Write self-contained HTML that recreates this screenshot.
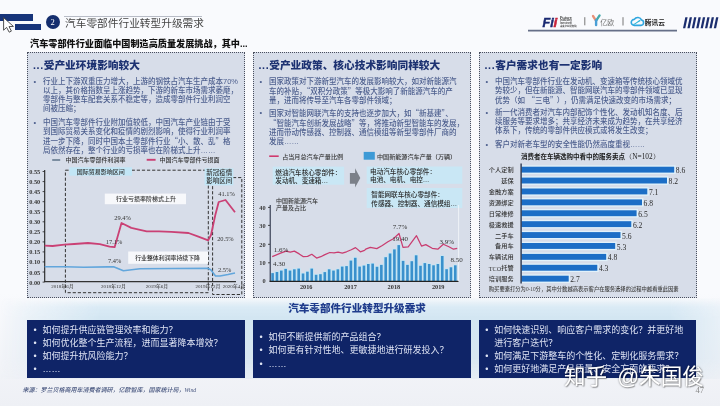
<!DOCTYPE html>
<html><head><meta charset="utf-8">
<style>
*{margin:0;padding:0;box-sizing:border-box}
html,body{width:720px;height:406px;overflow:hidden}
body{position:relative;background:linear-gradient(180deg,#f9fafd 0%,#f9fafd 72%,#eef0f5 100%);font-family:"Liberation Sans","Noto Sans CJK SC",sans-serif;color:#333}
.a{position:absolute}
.bar{position:absolute;background:#17347a}
.title{position:absolute;left:65px;top:15.5px;font-size:10.7px;line-height:14px;color:#454545;white-space:nowrap;font-weight:400}
.sub{position:absolute;left:30px;top:38.3px;font-size:9.15px;line-height:12px;font-weight:900;color:#111;white-space:nowrap}
.box{position:absolute;top:52px;height:246px;background:#d7dde9;border:1px dotted #4a4f5e}
.h{position:absolute;font-size:10.7px;line-height:12px;font-weight:900;color:#1d3272;white-space:nowrap}
.d{letter-spacing:.6px}
.cq{font-family:"Noto Sans CJK SC",sans-serif}
.p{position:absolute;font-size:7.5px;line-height:9px;color:#4d5f8e;white-space:nowrap;font-weight:500}
.p .b{position:absolute;left:-9.5px}
.nav{position:absolute;top:320px;height:57.5px;background:#0f2467}
.q{position:absolute;font-size:9px;line-height:13.3px;color:#dfe4f4;white-space:nowrap}
.q span{position:absolute;left:-9px}
svg text{font-family:"Liberation Sans","Noto Sans CJK SC",sans-serif}
svg .sf,svg .sf text,svg text.sf,svg .sf tspan{font-family:"Liberation Serif","Noto Serif CJK SC",serif}
</style></head><body>

<!-- header -->
<div class="bar" style="left:0;top:14px;width:32.5px;height:7px"></div>
<div class="bar" style="left:15px;top:24px;width:25.5px;height:6px"></div>
<div class="a" style="left:45.5px;top:14.5px;width:14px;height:14px;border-radius:50%;background:#152e6e;color:#fff;font:8.5px/14.5px 'Liberation Serif',serif;text-align:center">2</div>
<div class="a" style="left:64px;top:15.8px;width:138px;height:0.8px;background:#b8bcc6"></div>
<svg class="a" style="left:0;top:0" width="720" height="40" viewBox="0 0 720 40">
<g fill="#1b2d6e"><polygon points="683.0,28.2 685.3,28.2 687.6,17.2 685.3,17.2"/><polygon points="687.4,28.2 689.7,28.2 692.0,17.2 689.7,17.2"/><polygon points="691.8,28.2 694.1,28.2 696.4,17.2 694.1,17.2"/><polygon points="696.2,28.2 698.5,28.2 700.8,17.2 698.5,17.2"/><polygon points="700.6,28.2 702.9,28.2 705.2,17.2 702.9,17.2"/><polygon points="705.0,28.2 707.3,28.2 709.6,17.2 707.3,17.2"/><polygon points="709.4,28.2 711.7,28.2 714.0,17.2 711.7,17.2"/><polygon points="713.8,28.2 716.1,28.2 718.4,17.2 716.1,17.2"/></g>
<line x1="528" y1="30.7" x2="677" y2="30.7" stroke="#666f88" stroke-width="1.7"/>
<line x1="584.8" y1="17.2" x2="584.8" y2="25.3" stroke="#777" stroke-width="1"/>
<line x1="623" y1="17.2" x2="623" y2="25.5" stroke="#777" stroke-width="1"/>
<g font-style="italic" font-weight="bold" font-family="'Liberation Sans',sans-serif" stroke-width="0.5">
<text x="542.6" y="26.7" font-size="13.6" fill="#1b2a72" stroke="#1b2a72" textLength="11.2" lengthAdjust="spacingAndGlyphs">Fi</text>
<text x="553.6" y="26.7" font-size="13.6" fill="#c8243c" stroke="#c8243c">i</text>
</g>
<g font-size="2.7" fill="#444" font-family="'Liberation Sans','Noto Sans CJK SC',sans-serif" font-weight="bold">
<text x="560" y="18.6" textLength="12" lengthAdjust="spacingAndGlyphs">Future</text><text x="560" y="21.3" textLength="12" lengthAdjust="spacingAndGlyphs">Industry</text><text x="560" y="24" textLength="12" lengthAdjust="spacingAndGlyphs">Investment</text><text x="560" y="26.8" textLength="16.5" lengthAdjust="spacingAndGlyphs">未来产业研究院</text>
</g>
<path d="M593,16 L595.8,20.3" stroke="#e79179" stroke-width="2.3" stroke-linecap="round"/>
<path d="M599.6,15.4 L596.2,20.6" stroke="#44a9ac" stroke-width="2.3" stroke-linecap="round"/>
<path d="M596.1,20.3 L596.1,25" stroke="#4a9fd6" stroke-width="2.4" stroke-linecap="round"/>
<text x="600.3" y="24.7" font-size="7" fill="#777" font-family="'Liberation Sans','Noto Sans CJK SC',sans-serif">亿欧</text>
<path d="M634.2,25.4 L641,25.4 A2.7,2.7 0 0 0 641.6,20.1 A4.1,4.1 0 0 0 634.3,19.4 A3,3 0 0 0 634.2,25.4 Z" fill="none" stroke="#2ea6df" stroke-width="1.6" stroke-linejoin="round"/>
<path d="M633.3,24.6 C635.5,23.8 638,21.5 640.3,20.4" fill="none" stroke="#2ab5d8" stroke-width="1.2"/>
<text x="644.8" y="24.8" font-size="6.7" font-weight="bold" fill="#222" font-family="'Liberation Sans','Noto Sans CJK SC',sans-serif">腾讯云</text>
</svg>
<svg class="a" style="left:0;top:0;z-index:5" width="20" height="40" viewBox="0 0 20 40">
<path d="M3.6,17.6 L3.6,30.2 L6.6,27.4 L9.2,32.2 L11.4,31.1 L9,26.6 L13.4,26.4 Z" fill="#fff" stroke="#333" stroke-width="0.85" stroke-linejoin="round"/>
</svg>
<div class="title">汽车零部件行业转型升级需求</div>
<div class="sub">汽车零部件行业面临中国制造高质量发展挑战，其中...</div>

<!-- boxes -->
<div class="box" style="left:27px;width:218px"></div>
<div class="box" style="left:252.5px;width:218px"></div>
<div class="box" style="left:479px;width:217.5px"></div>

<div class="h" style="left:33px;top:59px"><span class="d">...</span>受产业环境影响较大</div>
<div class="h" style="left:258.5px;top:59px"><span class="d">...</span>受产业政策、核心技术影响同样较大</div>
<div class="h" style="left:484.5px;top:59px"><span class="d">...</span>客户需求也有一定影响</div>

<div class="p" style="left:43px;top:76.7px"><span class="b">•</span>行业上下游双重压力增大，上游的钢铁占汽车生产成本70%<br>以上，其价格指数呈上涨趋势，下游的新车市场需求萎靡，<br>零部件与整车配套关系不稳定等，造成零部件行业利润空<br>间被压缩；</div>
<div class="p" style="left:43px;top:118.2px"><span class="b">•</span>中国汽车零部件行业附加值较低，中国汽车产业链由于受<br>到国际贸易关系变化和疫情的剧烈影响，使得行业利润率<br>进一步下降，同时中国本土零部件行业<span class="cq">“</span>小、散、乱<span class="cq">”</span>格<br>局依然存在，整个行业的亏损率也在阶梯式上升……</div>

<div class="p" style="left:269px;top:76.7px"><span class="b">•</span>国家政策对下游新型汽车的发展影响较大，如对新能源汽<br>车的补贴，<span class="cq">“</span>双积分政策<span class="cq">”</span>等极大影响了新能源汽车的产<br>量，进而将传导至汽车各零部件领域；</div>
<div class="p" style="left:269px;top:107.5px"><span class="b">•</span>国家对智能网联汽车的支持也逐步加大，如<span class="cq">“</span>新基建<span class="cq">”</span>、<br><span class="cq">“</span>智能汽车创新发展战略<span class="cq">”</span>等，将推动新型智能车的发展，<br>进而带动传感器、控制器、通信模组等新型零部件厂商的<br>发展……</div>

<div class="p" style="left:495px;top:76.6px"><span class="b">•</span>中国汽车零部件行业在发动机、变速箱等传统核心领域优<br>势较少，但在新能源、智能网联汽车的零部件领域已显现<br>优势（如<span style="margin-left:2.6px" class="cq">“</span>三电<span class="cq">”</span><span style="margin-left:3px">）</span><span style="margin-left:3px">，</span>仍需满足快速改变的市场需求；</div>
<div class="p" style="left:495px;top:108.2px"><span class="b">•</span>新一代消费者对汽车内部配饰个性化、发动机知名度、后<br>续服务等要求增多；共享经济未来成为趋势，在共享经济<br>体系下，传统的零部件供应模式或将发生改变；</div>
<div class="p" style="left:495px;top:140.2px"><span class="b">•</span>客户对新老车型的安全性能仍然高度重视……</div>

<!--CHARTS-->
<svg class="a" style="left:0;top:0" width="720" height="406" viewBox="0 0 720 406" font-weight="500">
<g font-size="6" fill="#333">
<line x1="52.2" y1="160" x2="60.2" y2="160" stroke="#788a9e" stroke-width="1.9"/>
<text x="65.4" y="159.5" dominant-baseline="central">中国汽车零部件利润率</text>
<line x1="146.7" y1="159.8" x2="155.6" y2="159.8" stroke="#ca4175" stroke-width="1.9"/>
<text x="159.6" y="159.5" dominant-baseline="central">中国汽车零部件亏损面</text>
</g>
<line x1="44.7" y1="170" x2="44.7" y2="282" stroke="#222" stroke-width="1.1"/>
<line x1="44.2" y1="281.6" x2="236" y2="281.6" stroke="#333" stroke-width="1.3"/>
<g class="sf" font-size="6.3" font-weight="bold" fill="#3a3a3a" text-anchor="end">
<text x="40.2" y="171.5" dominant-baseline="central">0.55</text>
<text x="40.2" y="181.6" dominant-baseline="central">0.50</text>
<text x="40.2" y="191.6" dominant-baseline="central">0.45</text>
<text x="40.2" y="201.7" dominant-baseline="central">0.40</text>
<text x="40.2" y="211.7" dominant-baseline="central">0.35</text>
<text x="40.2" y="221.8" dominant-baseline="central">0.30</text>
<text x="40.2" y="231.8" dominant-baseline="central">0.25</text>
<text x="40.2" y="241.9" dominant-baseline="central">0.20</text>
<text x="40.2" y="251.9" dominant-baseline="central">0.15</text>
<text x="40.2" y="261.9" dominant-baseline="central">0.10</text>
<text x="40.2" y="272.0" dominant-baseline="central">0.05</text>
<text x="40.2" y="282.1" dominant-baseline="central">0.00</text>
</g>
<g stroke="#222" stroke-width="0.8">
<line x1="42.6" y1="171.5" x2="44.7" y2="171.5"/>
<line x1="42.6" y1="181.6" x2="44.7" y2="181.6"/>
<line x1="42.6" y1="191.6" x2="44.7" y2="191.6"/>
<line x1="42.6" y1="201.7" x2="44.7" y2="201.7"/>
<line x1="42.6" y1="211.7" x2="44.7" y2="211.7"/>
<line x1="42.6" y1="221.8" x2="44.7" y2="221.8"/>
<line x1="42.6" y1="231.8" x2="44.7" y2="231.8"/>
<line x1="42.6" y1="241.9" x2="44.7" y2="241.9"/>
<line x1="42.6" y1="251.9" x2="44.7" y2="251.9"/>
<line x1="42.6" y1="261.9" x2="44.7" y2="261.9"/>
<line x1="42.6" y1="272.0" x2="44.7" y2="272.0"/>
<line x1="42.6" y1="282.1" x2="44.7" y2="282.1"/>
</g>
<rect x="65.4" y="170.2" width="142.9" height="122.5" fill="none" stroke="#333" stroke-width="1" stroke-dasharray="3.2 1.9"/>
<rect x="212.6" y="177.6" width="29.2" height="116.9" fill="none" stroke="#333" stroke-width="1" stroke-dasharray="3.2 1.9"/>
<rect x="69.3" y="167.3" width="62.7" height="8.4" fill="#c2e6f6"/>
<text x="100.7" y="171.6" font-size="6" fill="#333" text-anchor="middle" dominant-baseline="central">国际贸易影响区间</text>
<rect x="204.6" y="168.4" width="28.8" height="17" fill="#c2e6f6"/>
<text x="219.2" y="172.9" font-size="6.5" fill="#333" text-anchor="middle" dominant-baseline="central">新冠疫情</text>
<text x="219.2" y="180.8" font-size="6.5" fill="#333" text-anchor="middle" dominant-baseline="central">影响区间</text>
<rect x="104.8" y="193.6" width="81.2" height="10.6" fill="#f7f8fb"/>
<text x="146" y="199.3" font-size="6" fill="#333" text-anchor="middle" dominant-baseline="central">行业亏损率阶梯式上升</text>
<rect x="128.2" y="251.5" width="79.8" height="12.3" fill="#f7f8fb"/>
<text x="167.6" y="258.2" font-size="5.9" fill="#333" text-anchor="middle" dominant-baseline="central">行业整体利润率持续下降</text>
<polyline fill="none" stroke="#ca4175" stroke-width="1.8" stroke-linejoin="round" points="44.7,245.6 52.6,246 64.4,244.6 74.2,244 88,243 99.8,244.2 109.6,246.6 114.6,247.2 121.5,223 131.3,227.9 140,229.8 146.7,231.3 159,231.3 171.3,231.8 188.5,233 198.4,236.7 208.2,240.4 211,235 215.3,215 218.7,202 225.5,200 235,212.2"/>
<polyline fill="none" stroke="#62a6dc" stroke-width="1.6" stroke-linejoin="round" points="44.7,266.7 64.4,266.7 84,267.2 107.7,266.9 113.6,266.7 123.4,270.8 140,268.8 208,268.3 211,270 215.5,276 220,276 228,274.5 235,273"/>
<g class="sf" font-size="6.4" fill="#333" text-anchor="middle">
<text x="122.6" y="217" dominant-baseline="central">29.4%</text>
<text x="114" y="241.7" dominant-baseline="central">17.1%</text>
<text x="114.6" y="260.1" dominant-baseline="central">7.4%</text>
<text x="226.5" y="193.2" dominant-baseline="central">41.1%</text>
<text x="225.4" y="238.5" dominant-baseline="central">20.5%</text>
<text x="224.6" y="269.9" dominant-baseline="central">2.5%</text>
</g>
<g class="sf" font-size="5" fill="#333" text-anchor="middle">
<text x="62.4" y="286.6" dominant-baseline="central">2018年6月</text>
<text x="113.6" y="286.6" dominant-baseline="central">2018年12月</text>
<text x="157" y="286.6" dominant-baseline="central">2019年6月</text>
<text x="208" y="286.6" dominant-baseline="central">2019年12月</text>
<text x="234" y="286.6" dominant-baseline="central">2020年4月</text>
</g>
<line x1="269.2" y1="156.2" x2="278.7" y2="156.2" stroke="#d03a6e" stroke-width="1.6"/>
<text x="282.2" y="156.2" font-size="6.1" fill="#333" dominant-baseline="central">占当月总汽车产量比例</text>
<rect x="363.7" y="151.9" width="11.1" height="7.8" fill="#3d9ad6"/>
<text x="377" y="156" font-size="6.1" fill="#333" dominant-baseline="central">中国新能源汽车产量（万辆）</text>
<rect x="272.7" y="166.6" width="71.5" height="18.1" fill="#c9e7f5"/>
<rect x="366.7" y="166.5" width="95.6" height="17.3" fill="#c9e7f5"/>
<rect x="366.7" y="188" width="95.6" height="20" fill="#c9e7f5"/>
<g font-size="6.6" fill="#2a2a2a">
<text x="275.3" y="172.6" dominant-baseline="central">燃油汽车核心零部件：</text>
<text x="275.3" y="180.3" dominant-baseline="central">发动机、变速箱…</text>
<text x="370.1" y="171.7" dominant-baseline="central">电动汽车核心零部件：</text>
<text x="370.1" y="179.5" dominant-baseline="central">电池、电机、电控…</text>
<text x="371.3" y="194" dominant-baseline="central">智能网联车核心零部件：</text>
<text x="371.3" y="203.6" dominant-baseline="central">传感器、控制器、通信模组…</text>
</g>
<polygon points="349.9,172.9 355.1,172.9 355.1,168.2 360.3,178 355.1,187.6 355.1,183.7 349.9,183.7" fill="#7b8089"/>
<g font-size="6" fill="#333"><text x="276" y="201" dominant-baseline="central">中国新能源汽车</text><text x="276" y="208.4" dominant-baseline="central">产量及占比</text></g>
<g>
<rect x="270.40" y="272.5" width="4.1" height="8.5" fill="#bfe6f7"/>
<rect x="274.75" y="271.4" width="4.1" height="9.6" fill="#bfe6f7"/>
<rect x="279.10" y="270.0" width="4.1" height="11.0" fill="#bfe6f7"/>
<rect x="283.45" y="268.3" width="4.1" height="12.7" fill="#bfe6f7"/>
<rect x="287.80" y="270.0" width="4.1" height="11.0" fill="#bfe6f7"/>
<rect x="292.15" y="268.7" width="4.1" height="12.3" fill="#bfe6f7"/>
<rect x="296.50" y="268.0" width="4.1" height="13.0" fill="#bfe6f7"/>
<rect x="300.85" y="272.9" width="4.1" height="8.1" fill="#bfe6f7"/>
<rect x="305.20" y="271.1" width="4.1" height="9.9" fill="#bfe6f7"/>
<rect x="309.55" y="268.0" width="4.1" height="13.0" fill="#bfe6f7"/>
<rect x="313.90" y="274.1" width="4.1" height="6.8" fill="#bfe6f7"/>
<rect x="318.25" y="273.6" width="4.1" height="7.4" fill="#bfe6f7"/>
<rect x="322.60" y="271.5" width="4.1" height="9.5" fill="#bfe6f7"/>
<rect x="326.95" y="268.7" width="4.1" height="12.3" fill="#bfe6f7"/>
<rect x="331.30" y="270.0" width="4.1" height="11.0" fill="#bfe6f7"/>
<rect x="335.65" y="268.7" width="4.1" height="12.3" fill="#bfe6f7"/>
<rect x="340.00" y="266.0" width="4.1" height="15.0" fill="#bfe6f7"/>
<rect x="344.35" y="265.5" width="4.1" height="15.5" fill="#bfe6f7"/>
<rect x="348.70" y="260.0" width="4.1" height="21.0" fill="#bfe6f7"/>
<rect x="353.05" y="257.2" width="4.1" height="23.8" fill="#bfe6f7"/>
<rect x="357.40" y="266.0" width="4.1" height="15.0" fill="#bfe6f7"/>
<rect x="361.75" y="265.0" width="4.1" height="16.0" fill="#bfe6f7"/>
<rect x="366.10" y="263.4" width="4.1" height="17.6" fill="#bfe6f7"/>
<rect x="370.45" y="263.0" width="4.1" height="18.0" fill="#bfe6f7"/>
<rect x="374.80" y="266.2" width="4.1" height="14.8" fill="#bfe6f7"/>
<rect x="379.15" y="264.3" width="4.1" height="16.7" fill="#bfe6f7"/>
<rect x="383.50" y="256.6" width="4.1" height="24.4" fill="#bfe6f7"/>
<rect x="387.85" y="252.9" width="4.1" height="28.1" fill="#bfe6f7"/>
<rect x="392.20" y="248.8" width="4.1" height="32.2" fill="#bfe6f7"/>
<rect x="396.55" y="244.5" width="4.1" height="36.5" fill="#bfe6f7"/>
<rect x="400.90" y="260.3" width="4.1" height="20.7" fill="#bfe6f7"/>
<rect x="405.25" y="264.3" width="4.1" height="16.7" fill="#bfe6f7"/>
<rect x="409.60" y="260.6" width="4.1" height="20.4" fill="#bfe6f7"/>
<rect x="413.95" y="254.7" width="4.1" height="26.3" fill="#bfe6f7"/>
<rect x="418.30" y="265.2" width="4.1" height="15.8" fill="#bfe6f7"/>
<rect x="422.65" y="262.5" width="4.1" height="18.5" fill="#bfe6f7"/>
<rect x="427.00" y="263.4" width="4.1" height="17.6" fill="#bfe6f7"/>
<rect x="431.35" y="264.7" width="4.1" height="16.3" fill="#bfe6f7"/>
<rect x="435.70" y="263.4" width="4.1" height="17.6" fill="#bfe6f7"/>
<rect x="440.05" y="255.4" width="4.1" height="25.6" fill="#bfe6f7"/>
<rect x="444.40" y="268.6" width="4.1" height="12.4" fill="#bfe6f7"/>
<rect x="448.75" y="266.7" width="4.1" height="14.3" fill="#bfe6f7"/>
<rect x="453.10" y="264.7" width="4.1" height="16.3" fill="#bfe6f7"/>
<rect x="271.30" y="273.1" width="2.6" height="7.9" fill="#3a90cc"/>
<rect x="275.65" y="272.0" width="2.6" height="9.0" fill="#3a90cc"/>
<rect x="280.00" y="270.6" width="2.6" height="10.4" fill="#3a90cc"/>
<rect x="284.35" y="268.9" width="2.6" height="12.1" fill="#3a90cc"/>
<rect x="288.70" y="270.6" width="2.6" height="10.4" fill="#3a90cc"/>
<rect x="293.05" y="269.3" width="2.6" height="11.7" fill="#3a90cc"/>
<rect x="297.40" y="268.6" width="2.6" height="12.4" fill="#3a90cc"/>
<rect x="301.75" y="273.5" width="2.6" height="7.5" fill="#3a90cc"/>
<rect x="306.10" y="271.7" width="2.6" height="9.3" fill="#3a90cc"/>
<rect x="310.45" y="268.6" width="2.6" height="12.4" fill="#3a90cc"/>
<rect x="314.80" y="274.8" width="2.6" height="6.2" fill="#3a90cc"/>
<rect x="319.15" y="274.2" width="2.6" height="6.8" fill="#3a90cc"/>
<rect x="323.50" y="272.1" width="2.6" height="8.9" fill="#3a90cc"/>
<rect x="327.85" y="269.3" width="2.6" height="11.7" fill="#3a90cc"/>
<rect x="332.20" y="270.6" width="2.6" height="10.4" fill="#3a90cc"/>
<rect x="336.55" y="269.3" width="2.6" height="11.7" fill="#3a90cc"/>
<rect x="340.90" y="266.6" width="2.6" height="14.4" fill="#3a90cc"/>
<rect x="345.25" y="266.1" width="2.6" height="14.9" fill="#3a90cc"/>
<rect x="349.60" y="260.6" width="2.6" height="20.4" fill="#3a90cc"/>
<rect x="353.95" y="257.8" width="2.6" height="23.2" fill="#3a90cc"/>
<rect x="358.30" y="266.6" width="2.6" height="14.4" fill="#3a90cc"/>
<rect x="362.65" y="265.6" width="2.6" height="15.4" fill="#3a90cc"/>
<rect x="367.00" y="264.0" width="2.6" height="17.0" fill="#3a90cc"/>
<rect x="371.35" y="263.6" width="2.6" height="17.4" fill="#3a90cc"/>
<rect x="375.70" y="266.8" width="2.6" height="14.2" fill="#3a90cc"/>
<rect x="380.05" y="264.9" width="2.6" height="16.1" fill="#3a90cc"/>
<rect x="384.40" y="257.2" width="2.6" height="23.8" fill="#3a90cc"/>
<rect x="388.75" y="253.5" width="2.6" height="27.5" fill="#3a90cc"/>
<rect x="393.10" y="249.4" width="2.6" height="31.6" fill="#3a90cc"/>
<rect x="397.45" y="245.1" width="2.6" height="35.9" fill="#3a90cc"/>
<rect x="401.80" y="260.9" width="2.6" height="20.1" fill="#3a90cc"/>
<rect x="406.15" y="264.9" width="2.6" height="16.1" fill="#3a90cc"/>
<rect x="410.50" y="261.2" width="2.6" height="19.8" fill="#3a90cc"/>
<rect x="414.85" y="255.3" width="2.6" height="25.7" fill="#3a90cc"/>
<rect x="419.20" y="265.8" width="2.6" height="15.2" fill="#3a90cc"/>
<rect x="423.55" y="263.1" width="2.6" height="17.9" fill="#3a90cc"/>
<rect x="427.90" y="264.0" width="2.6" height="17.0" fill="#3a90cc"/>
<rect x="432.25" y="265.3" width="2.6" height="15.7" fill="#3a90cc"/>
<rect x="436.60" y="264.0" width="2.6" height="17.0" fill="#3a90cc"/>
<rect x="440.95" y="256.0" width="2.6" height="25.0" fill="#3a90cc"/>
<rect x="445.30" y="269.2" width="2.6" height="11.8" fill="#3a90cc"/>
<rect x="449.65" y="267.3" width="2.6" height="13.7" fill="#3a90cc"/>
<rect x="454.00" y="265.3" width="2.6" height="15.7" fill="#3a90cc"/>
</g>
<line x1="270.2" y1="205" x2="270.2" y2="281.5" stroke="#1a2038" stroke-width="1"/>
<line x1="269.5" y1="281.3" x2="458.5" y2="281.3" stroke="#222" stroke-width="1.3"/>
<line x1="458.6" y1="205" x2="458.6" y2="281" stroke="#f4f6fa" stroke-width="0.8"/>
<g class="sf" font-size="6.3" font-weight="bold" fill="#3a3a3a" text-anchor="end">
<text x="265.6" y="207.4" dominant-baseline="central">40</text>
<text x="265.6" y="225.4" dominant-baseline="central">30</text>
<text x="265.6" y="244.3" dominant-baseline="central">20</text>
<text x="265.6" y="262.8" dominant-baseline="central">10</text>
<text x="265.6" y="280.8" dominant-baseline="central">0</text>
</g>
<g stroke="#222" stroke-width="0.8">
<line x1="268" y1="207.4" x2="270" y2="207.4"/>
<line x1="268" y1="225.4" x2="270" y2="225.4"/>
<line x1="268" y1="244.3" x2="270" y2="244.3"/>
<line x1="268" y1="262.8" x2="270" y2="262.8"/>
</g>
<polyline fill="none" stroke="#c93d70" stroke-width="1.25" stroke-linejoin="round" points="272.2,256.7 280.5,253.2 286.1,251.1 290.2,252.2 294.4,251.1 299.2,253.9 303.4,256.7 307.6,256.4 311.8,254.3 316.6,258.1 320.8,256.7 324.9,254.6 329.8,252.5 334.0,252.8 338.1,252.2 342.3,253.2 346.5,251.8 351.3,249.7 355.5,247.6 360.4,251.8 364.5,250.4 365.7,249.2 370.3,247.3 376.8,248.6 382.3,245.5 387.9,241.8 393.4,238.7 399.0,233.5 403.0,247.3 408.2,246.8 416.5,235.7 421.5,246.1 425.8,244.6 432.2,248.3 437.8,249.2 443.3,244.2 448.9,246.8 453.5,249.2 457.2,248.3"/>
<g class="sf" font-size="7" fill="#333" text-anchor="middle">
<text x="281" y="250.4" dominant-baseline="central">1.6%</text>
<text x="279.2" y="263.6" dominant-baseline="central">4.30</text>
<text x="400" y="227" dominant-baseline="central">7.7%</text>
<text x="400" y="239.4" dominant-baseline="central">19.40</text>
<text x="446.8" y="241.9" dominant-baseline="central">3.9%</text>
<text x="456.7" y="259.8" dominant-baseline="central">8.50</text>
</g>
<g class="sf" font-size="6.3" font-weight="bold" fill="#333" text-anchor="middle">
<text x="306.2" y="286.8" dominant-baseline="central">2016</text>
<text x="350.5" y="286.8" dominant-baseline="central">2017</text>
<text x="393.9" y="286.8" dominant-baseline="central">2018</text>
<text x="438.2" y="286.8" dominant-baseline="central">2019</text>
</g>
<text x="521" y="156.2" font-size="6.5" fill="#1a1a1a" font-weight="bold" dominant-baseline="central">消费者在车辆选购中看中的服务卖点<tspan class="sf" font-size="7.3" font-weight="normal">（N=102）</tspan></text>
<rect x="521.5" y="165.4" width="154.1" height="8.5" fill="#e2f2fb"/>
<rect x="521.5" y="176.3" width="146.9" height="8.5" fill="#e2f2fb"/>
<rect x="521.5" y="187.2" width="127.2" height="8.5" fill="#e2f2fb"/>
<rect x="521.5" y="198.1" width="121.9" height="8.5" fill="#e2f2fb"/>
<rect x="521.5" y="209.0" width="116.5" height="8.5" fill="#e2f2fb"/>
<rect x="521.5" y="219.9" width="111.2" height="8.5" fill="#e2f2fb"/>
<rect x="521.5" y="230.8" width="100.4" height="8.5" fill="#e2f2fb"/>
<rect x="521.5" y="241.7" width="95.1" height="8.5" fill="#e2f2fb"/>
<rect x="521.5" y="252.6" width="86.1" height="8.5" fill="#e2f2fb"/>
<rect x="521.5" y="263.5" width="77.2" height="8.5" fill="#e2f2fb"/>
<rect x="521.5" y="274.4" width="48.6" height="8.5" fill="#e2f2fb"/>
<rect x="521.5" y="166.7" width="152.7" height="5.9" fill="#1c6ec6"/>
<text class="sf" x="675.8" y="170.7" font-size="7.6" fill="#2a2a2a" dominant-baseline="central">8.6</text>
<text x="513.6" y="169.6" font-size="6.2" fill="#333" text-anchor="end" dominant-baseline="central">个人定制</text>
<rect x="521.5" y="177.6" width="145.5" height="5.9" fill="#1c6ec6"/>
<text class="sf" x="668.6" y="181.6" font-size="7.6" fill="#2a2a2a" dominant-baseline="central">8.2</text>
<text x="513.6" y="180.5" font-size="6.2" fill="#333" text-anchor="end" dominant-baseline="central">延保</text>
<rect x="521.5" y="188.5" width="125.8" height="5.9" fill="#1c6ec6"/>
<text class="sf" x="648.9" y="192.5" font-size="7.6" fill="#2a2a2a" dominant-baseline="central">7.1</text>
<text x="513.6" y="191.4" font-size="6.2" fill="#333" text-anchor="end" dominant-baseline="central">金融方案</text>
<rect x="521.5" y="199.4" width="120.5" height="5.9" fill="#1c6ec6"/>
<text class="sf" x="643.6" y="203.4" font-size="7.6" fill="#2a2a2a" dominant-baseline="central">6.8</text>
<text x="513.6" y="202.3" font-size="6.2" fill="#333" text-anchor="end" dominant-baseline="central">资源绑定</text>
<rect x="521.5" y="210.3" width="115.1" height="5.9" fill="#1c6ec6"/>
<text class="sf" x="638.2" y="214.3" font-size="7.6" fill="#2a2a2a" dominant-baseline="central">6.5</text>
<text x="513.6" y="213.2" font-size="6.2" fill="#333" text-anchor="end" dominant-baseline="central">日常维修</text>
<rect x="521.5" y="221.2" width="109.8" height="5.9" fill="#1c6ec6"/>
<text class="sf" x="632.9" y="225.2" font-size="7.6" fill="#2a2a2a" dominant-baseline="central">6.2</text>
<text x="513.6" y="224.1" font-size="6.2" fill="#333" text-anchor="end" dominant-baseline="central">极速救援</text>
<rect x="521.5" y="232.1" width="99.0" height="5.9" fill="#1c6ec6"/>
<text class="sf" x="622.1" y="236.1" font-size="7.6" fill="#2a2a2a" dominant-baseline="central">5.6</text>
<text x="513.6" y="235.0" font-size="6.2" fill="#333" text-anchor="end" dominant-baseline="central">二手车</text>
<rect x="521.5" y="243.0" width="93.7" height="5.9" fill="#1c6ec6"/>
<text class="sf" x="616.8" y="247.0" font-size="7.6" fill="#2a2a2a" dominant-baseline="central">5.3</text>
<text x="513.6" y="245.9" font-size="6.2" fill="#333" text-anchor="end" dominant-baseline="central">备用车</text>
<rect x="521.5" y="253.9" width="84.7" height="5.9" fill="#1c6ec6"/>
<text class="sf" x="607.8" y="257.9" font-size="7.6" fill="#2a2a2a" dominant-baseline="central">4.8</text>
<text x="513.6" y="256.8" font-size="6.2" fill="#333" text-anchor="end" dominant-baseline="central">车辆试用</text>
<rect x="521.5" y="264.8" width="75.8" height="5.9" fill="#1c6ec6"/>
<text class="sf" x="598.9" y="268.8" font-size="7.6" fill="#2a2a2a" dominant-baseline="central">4.3</text>
<text x="513.6" y="267.7" font-size="6.2" fill="#333" text-anchor="end" dominant-baseline="central"><tspan class="sf">TCO</tspan>托管</text>
<rect x="521.5" y="275.7" width="47.2" height="5.9" fill="#1c6ec6"/>
<text class="sf" x="570.3" y="279.7" font-size="7.6" fill="#2a2a2a" dominant-baseline="central">2.7</text>
<text x="513.6" y="278.6" font-size="6.2" fill="#333" text-anchor="end" dominant-baseline="central">培训服务</text>
<line x1="521.1" y1="163.5" x2="521.1" y2="283.5" stroke="#1e2a44" stroke-width="1.3"/>
<text x="488.8" y="289.4" font-size="5.3" fill="#444" dominant-baseline="central">购买要素打分为<tspan class="sf">0-10</tspan>分，其中分数越高表示客户在服务选择的过程中越看重此因素</text>
</svg>
<!--/CHARTS-->
<!-- banner -->
<div class="a" style="left:0;top:298px;width:720px;height:81px;background:linear-gradient(180deg,rgba(246,248,251,1) 0px,rgba(214,232,244,.9) 9px,#d3e6f2 20px,#d7e6f1 60px,rgba(225,233,242,.6) 82px);-webkit-mask-image:linear-gradient(90deg,rgba(0,0,0,0) 0,rgba(0,0,0,.35) 30px,#000 100px,#000 670px,rgba(0,0,0,.4) 720px)"></div>
<div class="a" style="left:0;top:301.2px;width:714px;text-align:center;font-size:10.6px;line-height:14px;font-weight:900;color:#1f3c8c">汽车零部件行业转型升级需求</div>

<!-- navy boxes -->
<div class="nav" style="left:27px;width:217.5px"></div>
<div class="nav" style="left:253px;width:217.5px"></div>
<div class="nav" style="left:479px;width:217px"></div>
<div class="q" style="left:42.5px;top:323.6px"><span>•</span>如何提升供应链管理效率和能力？<br><span style="top:13.3px">•</span>如何优化整个生产流程，进而显著降本增效？<br><span style="top:26.6px">•</span>如何提升抗风险能力？<br><span style="top:39.9px">•</span>……</div>
<div class="q" style="left:268.5px;top:331px"><span>•</span>如何不断提供新的产品组合？<br><span style="top:13.3px">•</span>如何更有针对性地、更敏捷地进行研发投入？<br><span style="top:26.6px">•</span>……</div>
<div class="q" style="left:494.3px;top:323.6px"><span>•</span>如何快速识别、响应客户需求的变化？并更好地<br>进行客户迭代？<br><span style="top:26.6px">•</span>如何满足下游整车的个性化、定制化服务需求？<br><span style="top:39.9px">•</span>如何更好地满足产品质量、安全方面的要求？</div>

<div class="a" style="left:22.5px;top:386.2px;font-size:6px;line-height:8px;font-style:italic;color:#43527c;white-space:nowrap;font-weight:500">来源：罗兰贝格商用车消费者调研，亿欧智库，国家统计局，<span style="font-family:'Liberation Serif',serif;font-size:5.6px">Wind</span></div>

<div class="a" style="left:564px;top:363.5px;font-size:21.6px;line-height:26px;color:#fff;white-space:nowrap;text-shadow:0 0 2px rgba(0,0,0,.5),1px 1px 1px rgba(0,0,0,.3)">知乎<span style="margin-left:10px">@朱国俊</span></div>
<div class="a" style="left:695.5px;top:385px;font-size:8.6px;line-height:10px;color:#8a8a8a;font-family:'Liberation Serif',serif">47</div>

</body></html>
